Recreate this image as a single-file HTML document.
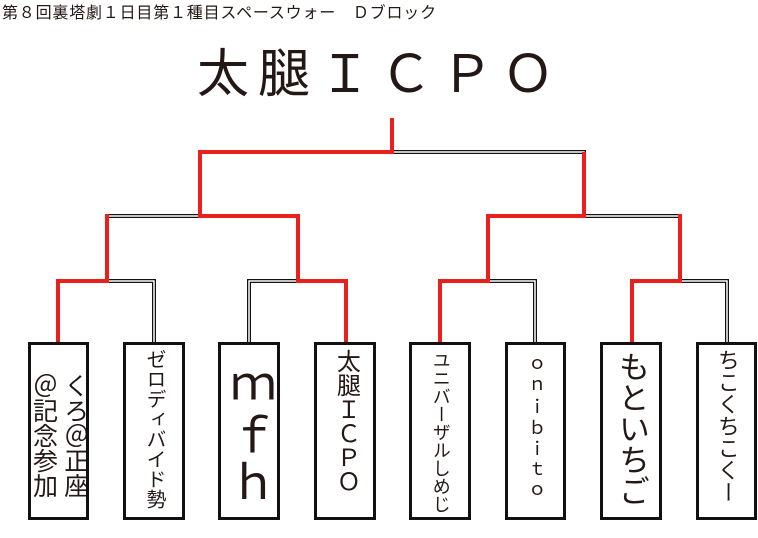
<!DOCTYPE html>
<html><head><meta charset="utf-8"><style>
body{margin:0;width:758px;height:538px;background:#fff;position:relative;overflow:hidden;font-family:"Liberation Sans","Noto Sans CJK JP",sans-serif;color:#231815}
.hd{position:absolute;left:2px;top:-1px;font-size:16px;white-space:nowrap;letter-spacing:0.8px}
.ti{position:absolute;left:197px;top:40px;font-size:52px;white-space:nowrap;letter-spacing:9px;line-height:70px}
.b{position:absolute;top:342px;height:172px;border:3px solid #111;box-sizing:content-box;display:flex;justify-content:center;align-items:flex-start;overflow:hidden}
.v{writing-mode:vertical-rl;text-orientation:upright;white-space:nowrap;line-height:1.1}
svg{position:absolute;left:0;top:0}
</style></head><body>
<div class="hd">第８回裏塔劇１日目第１種目スペースウォー　Ｄブロック</div>
<div class="ti">太腿ＩＣＰＯ</div>
<svg width="758" height="538">
<g fill="none" stroke-linecap="square">
<g stroke="#111" stroke-width="4">
<path d="M392 152H584"/><path d="M107 216H200"/><path d="M584 216H680"/>
<path d="M107 281H154V342"/><path d="M249 342V281H298"/>
<path d="M488 281H535V342"/><path d="M680 281H727V342"/>
</g>
<g stroke="#fff" stroke-width="1.5">
<path d="M392 152H584"/><path d="M107 216H200"/><path d="M584 216H680"/>
<path d="M107 281H154V342"/><path d="M249 342V281H298"/>
<path d="M488 281H535V342"/><path d="M680 281H727V342"/>
</g>
<g stroke="#e8211d" stroke-width="4" stroke-linecap="butt">
<path d="M392 118V152H200V216H298V281H346V342"/>
<path d="M107 214V281H58V342"/>
<path d="M584 152V216H488V281H440V342"/>
<path d="M680 214V281H632V342"/>
</g>
</g>
</svg>
<div class="b" style="left:28px;width:55px"><div class="v" style="font-size:25px;margin-top:28px;line-height:1.25">くろ＠正座<br>＠記念参加</div></div>
<div class="b" style="left:123px;width:56px"><div class="v" style="font-size:20px;margin-top:4px;line-height:1.2">ゼロディバイド勢</div></div>
<div class="b" style="left:218px;width:56px"><div class="v" style="font-size:47px;margin-top:18px;line-height:1.1">ｍｆｈ</div></div>
<div class="b" style="left:314px;width:56px"><div class="v" style="font-size:24px;margin-top:4px;line-height:1.2">太腿ＩＣＰＯ</div></div>
<div class="b" style="left:409px;width:56px"><div class="v" style="font-size:18px;margin-top:6px;line-height:1.2">ユニバーザルしめじ</div></div>
<div class="b" style="left:505px;width:55px"><div class="v" style="font-size:18px;margin-top:10px;letter-spacing:3px;line-height:1.2">ｏｎｉｂｉｔｏ</div></div>
<div class="b" style="left:600px;width:56px"><div class="v" style="font-size:31px;margin-top:6px;line-height:1.15">もといちご</div></div>
<div class="b" style="left:696px;width:55px"><div class="v" style="font-size:22px;margin-top:4px;line-height:1.2">ちこくちこくー</div></div>
</body></html>
